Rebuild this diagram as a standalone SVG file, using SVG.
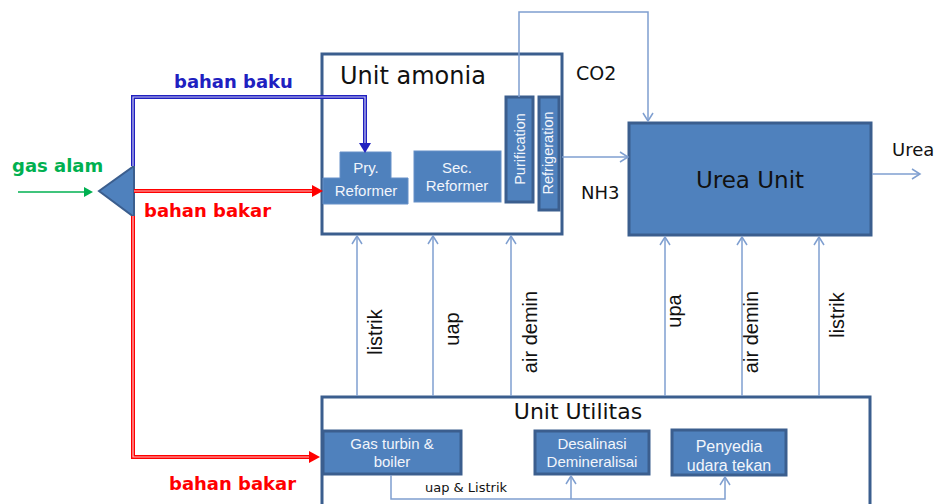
<svg xmlns="http://www.w3.org/2000/svg" width="939" height="504" viewBox="0 0 939 504">
<defs>
<style>
.box{fill:#4f81bd;stroke:#3b5e8e;stroke-width:3}
.frame{fill:#ffffff;stroke:#3b5e8e;stroke-width:3}
.soft{fill:#4f81bd;stroke:#6690c8;stroke-width:1}
.conn{fill:none;stroke:#7f9fd0;stroke-width:1.5}
.wt{font-family:"Liberation Sans",Arial,sans-serif;fill:#f2f5fb;text-anchor:middle}
.dk{font-family:"DejaVu Sans","Liberation Sans",sans-serif;fill:#111111}
.lbl{font-family:"Liberation Sans",Arial,sans-serif;font-size:20px;fill:#111111;text-anchor:middle}
.bold{font-family:"DejaVu Sans","Liberation Sans",sans-serif;font-weight:bold;font-size:18px}
.dbl{fill:none;stroke-width:4}
.dblin{fill:none;stroke:#ffffff;stroke-width:1.2;stroke-opacity:0.75}
</style>
<marker id="open" markerUnits="userSpaceOnUse" markerWidth="12" markerHeight="12" refX="9" refY="6" orient="auto">
<path d="M1,1 L9,6 L1,11" fill="none" stroke="#7f9fd0" stroke-width="1.5"/>
</marker>
</defs>

<g id="unit-amonia">
<rect class="frame" x="322" y="54" width="240" height="180"/>
<text class="dk" x="340" y="84" font-size="24">Unit amonia</text>
</g>
<g id="pry-reformer">
<polygon class="soft" points="340,152 391,152 391,178 408,178 408,204 323,204 323,178 340,178"/>
<text class="wt" x="366" y="173" font-size="15">Pry.</text>
<text class="wt" x="366" y="196" font-size="15">Reformer</text>
</g>
<g id="sec-reformer">
<rect class="soft" x="414" y="151" width="87" height="51"/>
<text class="wt" x="457" y="173" font-size="15">Sec.</text>
<text class="wt" x="457" y="191" font-size="15">Reformer</text>
</g>
<g id="purification">
<rect class="box" x="506" y="97" width="27" height="105"/>
<text class="wt" transform="translate(525,149) rotate(-90)" font-size="14.5">Purification</text>
</g>
<g id="refrigeration">
<rect class="box" x="539" y="97" width="20" height="113"/>
<text class="wt" transform="translate(553,153) rotate(-90)" font-size="14.5">Refrigeration</text>
</g>
<g id="urea-unit">
<rect class="box" x="629" y="123" width="242" height="112"/>
<text class="dk" x="750" y="188" font-size="23" text-anchor="middle">Urea Unit</text>
</g>
<g id="splitter">
<polygon points="99,191 134,166 134,217" fill="#4f81bd" stroke="#3b5e8e" stroke-width="2"/>
</g>
<g id="unit-utilitas">
<rect class="frame" x="322" y="397" width="548" height="120"/>
<text class="dk" x="578" y="419" font-size="22" text-anchor="middle">Unit Utilitas</text>
</g>
<g id="gas-turbin">
<rect class="box" x="323" y="431" width="138" height="43"/>
<text class="wt" x="392" y="449" font-size="15">Gas turbin &amp;</text>
<text class="wt" x="392" y="467" font-size="15">boiler</text>
</g>
<g id="desalinasi">
<rect class="box" x="535" y="431" width="114" height="43"/>
<text class="wt" x="592" y="449" font-size="15">Desalinasi</text>
<text class="wt" x="592" y="467" font-size="15">Demineralisai</text>
</g>
<g id="penyedia">
<rect class="box" x="672" y="430" width="114" height="45"/>
<text class="wt" x="729" y="452" font-size="16">Penyedia</text>
<text class="wt" x="729" y="471" font-size="16">udara tekan</text>
</g>

<g id="connectors">
<line x1="18" y1="192" x2="85" y2="192" stroke="#00b050" stroke-width="1.5"/>
<polygon points="84,187 93,192 84,197" fill="#00b050"/>
<path class="dbl" stroke="#2020c0" d="M133,166 V97 H365 V144"/>
<path class="dblin" d="M133,166 V97 H365 V144"/>
<polygon points="359,143 371,143 365,153" fill="#2020c0"/>
<path class="dbl" stroke="#ff0000" d="M134,191 H313"/>
<path class="dblin" d="M134,191 H313"/>
<polygon points="312,185 323,191 312,197" fill="#ff0000"/>
<path class="dbl" stroke="#ff0000" d="M133,216 V457 H310"/>
<path class="dblin" d="M133,216 V457 H310"/>
<polygon points="309,451 320,457 309,463" fill="#ff0000"/>
<path class="conn" d="M519,97 V12 H648 V121" marker-end="url(#open)"/>
<path class="conn" d="M562,157 H628" marker-end="url(#open)"/>
<path class="conn" d="M872,174 H920" marker-end="url(#open)"/>
<path class="conn" d="M357,396 V236" marker-end="url(#open)"/>
<path class="conn" d="M433,396 V236" marker-end="url(#open)"/>
<path class="conn" d="M511,396 V236" marker-end="url(#open)"/>
<path class="conn" d="M665,396 V237" marker-end="url(#open)"/>
<path class="conn" d="M742,396 V237" marker-end="url(#open)"/>
<path class="conn" d="M819,396 V237" marker-end="url(#open)"/>
<path class="conn" d="M391,475 V499 H725 V477" marker-end="url(#open)"/>
<path class="conn" d="M571,499 V476" marker-end="url(#open)"/>
</g>

<g id="labels">
<text class="bold" x="12" y="172" fill="#00b050" font-size="17">gas alam</text>
<text class="bold" x="174" y="88" fill="#2020c0">bahan baku</text>
<text class="bold" x="144" y="217" fill="#ff0000">bahan bakar</text>
<text class="bold" x="169" y="490" fill="#ff0000">bahan bakar</text>
<text class="dk" x="576" y="80" font-size="19">CO2</text>
<text class="dk" x="581" y="199" font-size="18">NH3</text>
<text class="dk" x="892" y="156" font-size="18">Urea</text>
<text class="dk" x="466" y="492" font-size="13" text-anchor="middle">uap &amp; Listrik</text>
<text class="lbl" transform="translate(382,332) rotate(-90)">listrik</text>
<text class="lbl" transform="translate(459,329) rotate(-90)">uap</text>
<text class="lbl" transform="translate(537,332) rotate(-90)">air demin</text>
<text class="lbl" transform="translate(681,311) rotate(-90)">upa</text>
<text class="lbl" transform="translate(758,332) rotate(-90)">air demin</text>
<text class="lbl" transform="translate(844,315) rotate(-90)">listrik</text>
</g>
</svg>
